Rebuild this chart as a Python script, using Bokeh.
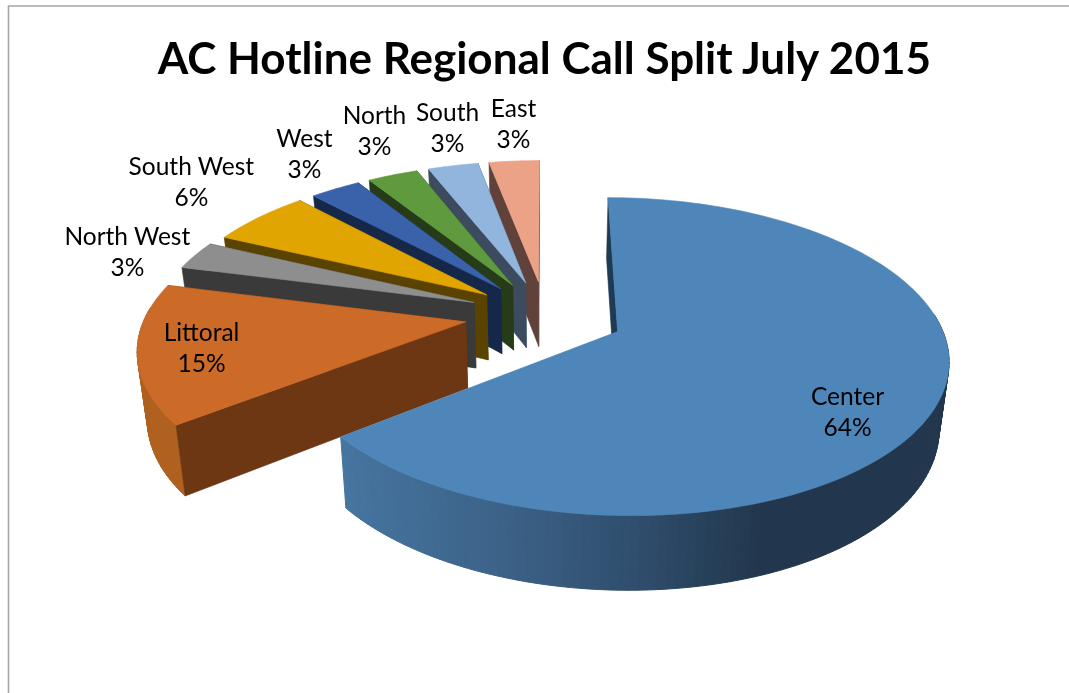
import numpy as np
from bokeh.plotting import figure
from bokeh.models import Range1d
from bokeh.core.properties import value
from bokeh.embed import file_html
from bokeh.resources import INLINE

categories = ["Center", "Littoral", "North West", "South West", "West", "North", "South", "East"]
shares = [64.49, 14.51, 3.0, 6.0, 3.0, 3.0, 3.0, 3.0]
title_text = "AC Hotline Regional Call Split July 2015"

TOP = ["#4F86B9", "#CC6A28", "#8E8E8E", "#E0A500", "#3A62AB", "#5F9A3E", "#92B5DD", "#ECA286"]
SIDE = ["#1E3A55", "#6E3714", "#3A3A3A", "#5A4300", "#16284A", "#263C18", "#3C4C5E", "#60423A"]
OUTER = ["#22374D", "#B0601F", "#3A3A3A", "#5A4300", "#16284A", "#263C18", "#3C4C5E", "#60423A"]

LABEL_XY = [(847, 395), (201, 331), (127, 235), (191, 165), (304, 137), (374, 114), (447, 111), (513, 107)]
LINE_GAP = 31
NUDGE = [(1, -1), (-5, -2), (-1, -2), (1, -1), (0, 0), (0, 0), (0, 0), (-1, 0)]

OX, OY = 546.0, 316.0
A, B, K, H, ZS, EXPLODE = 320.0, 150.0, 0.155, 66.0, 0.975, 0.24


def project(X, Y, bottom=False):
    X, Y = np.asarray(X, float), np.asarray(Y, float)
    s = 1 / (1 + K * Y)
    x = OX + A * X * s
    y = OY - B * Y * s
    if bottom:
        x = OX + (x - OX) * ZS
        y = OY + (y - OY) * ZS + H * s
    return x, y


def hex2rgb(h):
    return np.array([int(h[i:i + 2], 16) for i in (1, 3, 5)], float)


def center_wall_colour(x):
    stops_x = [340, 500, 640, 760, 960]
    stops_c = [hex2rgb(c) for c in ["#46759F", "#3C6288", "#2F4D6C", "#22374D", "#22374D"]]
    rgb = [np.interp(x, stops_x, [c[i] for c in stops_c]) for i in range(3)]
    return "#%02x%02x%02x" % tuple(int(round(v)) for v in rgb)


p = figure(width=1069, height=693, output_backend="svg", toolbar_location=None,
           x_range=Range1d(0, 1069), y_range=Range1d(693, 0), min_border=0)
p.styles = {"position": "fixed", "left": "0px", "top": "0px"}
p.axis.visible = False
p.grid.visible = False
p.outline_line_color = None
p.background_fill_color = "white"

# frame of the original picture
p.line([8, 8, 1069], [693, 5.5, 5.5], line_color="#A6A6A6", line_width=1.6)

total = sum(shares)
edges = np.cumsum([0] + list(shares)) / total * 2 * np.pi
order = list(range(len(shares)))[::-1]


def draw(xs, ys, colour, lw=0.6):
    p.patch(list(xs), list(ys), fill_color=colour, line_color=colour, line_width=lw)


for i in order:
    t0, t1 = edges[i], edges[i + 1]
    mid = (t0 + t1) / 2
    ex, ey = EXPLODE * np.sin(mid), EXPLODE * np.cos(mid)
    th = np.linspace(t0, t1, max(12, int((t1 - t0) * 40)))
    X, Y = ex + np.sin(th), ey + np.cos(th)
    nx, ny = NUDGE[i]

    xt, yt = project(X, Y)
    xb, yb = project(X, Y, True)
    ax, ay = project(ex, ey)
    bx, by = project(ex, ey, True)
    xt, xb, ax, bx = xt + nx, xb + nx, ax + nx, bx + nx
    yt, yb, ay, by = yt + ny, yb + ny, ay + ny, by + ny

    # end cut face, then start cut face, then the visible rim, then top
    if i != 0:
        draw([ax, xt[-1], xb[-1], bx], [ay, yt[-1], yb[-1], by], SIDE[i])
    for j in range(len(th) - 1):
        if np.cos((th[j] + th[j + 1]) / 2) > 0.1:
            continue
        if i == 0:
            colour = center_wall_colour((xt[j] + xt[j + 1]) / 2)
        else:
            colour = OUTER[i]
        draw([xt[j], xt[j + 1], xb[j + 1], xb[j]], [yt[j], yt[j + 1], yb[j + 1], yb[j]], colour, 1.0)
    draw([ax, xt[0], xb[0], bx], [ay, yt[0], yb[0], by], SIDE[i])
    draw([ax] + list(xt), [ay] + list(yt), TOP[i])

for name, share, (lx, ly) in zip(categories, shares, LABEL_XY):
    for txt, yy in ((name, ly), (f"{round(share)}%", ly + LINE_GAP)):
        p.text([lx], [yy], text=[txt], text_font=value("Lato"), text_font_size="24.5px",
               text_color="#000000", text_align="center", text_baseline="middle")

p.text([545], [56], text=[title_text], text_font=value("Lato"), text_font_size="44px",
       text_font_style="bold", text_color="#000000", text_align="center", text_baseline="middle")

open("out.html", "w").write(file_html(p, INLINE))
